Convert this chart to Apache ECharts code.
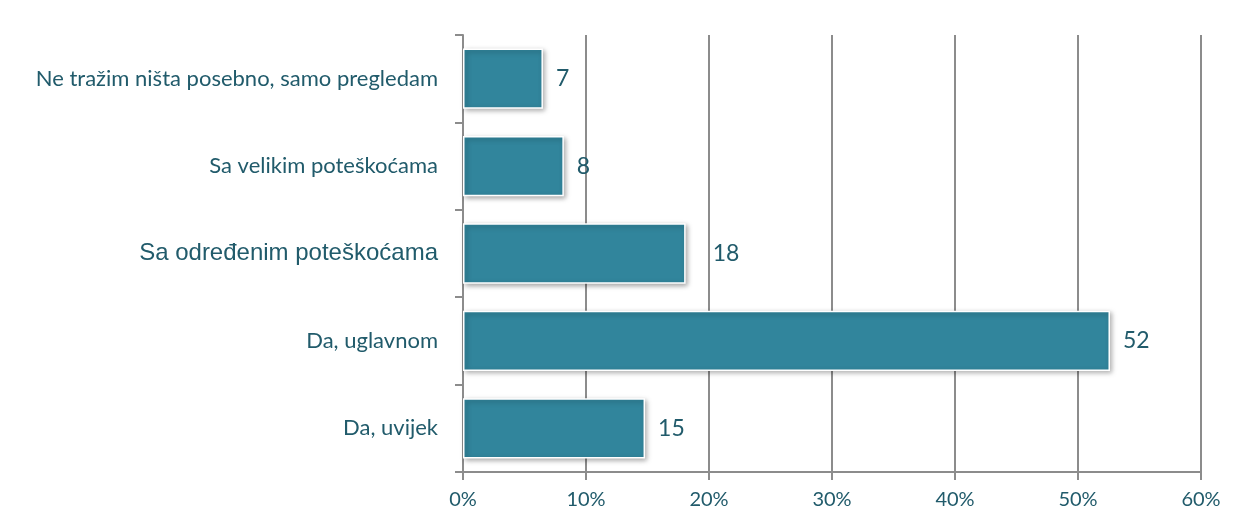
<!DOCTYPE html>
<html>
<head>
<meta charset="utf-8">
<script src="https://cdn.jsdelivr.net/npm/echarts@6/dist/echarts.min.js"></script>
<style>
  html, body { margin: 0; padding: 0; background: #fff; }
  #chart { width: 1237px; height: 528px; }
</style>
</head>
<body>
<div id="chart"></div>
<script>
// categories bottom -> top (ECharts category y axis starts at bottom)
var categories = ['Da, uvijek', 'Da, uglavnom', 'Sa određenim poteškoćama', 'Sa velikim poteškoćama', 'Ne tražim ništa posebno, samo pregledam'];
var values = [14.8, 52.6, 18.1, 8.2, 6.5];
var valueLabels = [15, 52, 18, 8, 7];
var xTicks = [0, 10, 20, 30, 40, 50, 60];

var textColor = '#215b6b';
var myChart = echarts.init(document.getElementById('chart'));

// the "18" label sits a bit further from its bar in the original
var barData = values.map(function (v, i) {
    var item = { value: v };
    if (i === 2) item.label = { distance: 27 };
    return item;
});

myChart.setOption({
    animation: false,
    grid: { left: 463, right: 36, top: 35, bottom: 56 },
    xAxis: {
        type: 'value',
        min: xTicks[0],
        max: xTicks[xTicks.length - 1],
        interval: 10,
        axisLine: { show: true, lineStyle: { color: '#8c8c8c', width: 2 } },
        axisTick: { show: true, length: 8, lineStyle: { color: '#8c8c8c', width: 2 } },
        splitLine: { show: true, lineStyle: { color: '#8c8c8c', width: 2 } },
        axisLabel: {
            formatter: '{value}%',
            color: textColor,
            fontFamily: 'Lato',
            fontSize: 20,
            margin: 18
        }
    },
    yAxis: {
        type: 'category',
        data: categories,
        axisLine: { show: true, lineStyle: { color: '#8c8c8c', width: 2 } },
        axisTick: { show: true, length: 8, lineStyle: { color: '#8c8c8c', width: 2 } },
        axisLabel: {
            color: textColor,
            margin: 25,
            fontFamily: 'Lato',
            fontSize: 22,
            formatter: function (v) {
                if (v === 'Sa određenim poteškoćama') return '{big|' + v + '}';
                return '{std|' + v + '}';
            },
            rich: {
                std: { fontFamily: 'Lato', fontSize: 22, color: textColor },
                big: { fontFamily: '"Liberation Sans", Arial, sans-serif', fontSize: 24, color: textColor }
            }
        }
    },
    series: [{
        type: 'bar',
        data: barData,
        barCategoryGap: '31%',
        itemStyle: {
            color: '#31859c',
            borderColor: '#ffffff',
            borderWidth: 1.5,
            shadowColor: 'rgba(0,0,0,0.35)',
            shadowBlur: 5,
            shadowOffsetX: 2,
            shadowOffsetY: 2
        },
        label: {
            show: true,
            position: 'right',
            distance: 13,
            color: textColor,
            fontFamily: 'Lato',
            fontSize: 23,
            formatter: function (p) { return valueLabels[p.dataIndex]; }
        }
    }]
});
</script>
</body>
</html>
